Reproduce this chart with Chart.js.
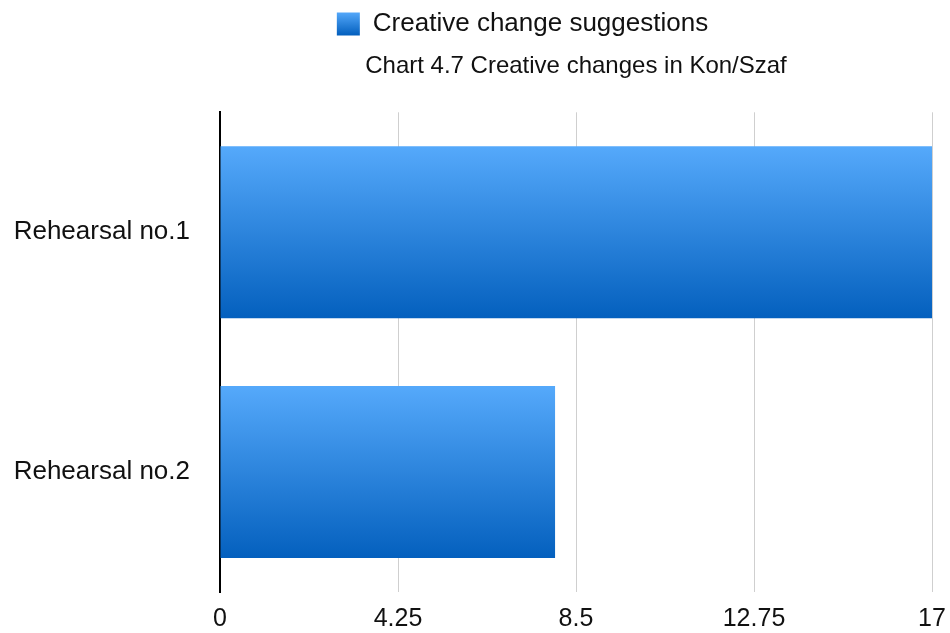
<!DOCTYPE html>
<html>
<head>
<meta charset="utf-8">
<script src="https://cdn.jsdelivr.net/npm/chart.js@4/dist/chart.umd.min.js"></script>
<style>
  html, body { margin: 0; padding: 0; background: #fff; }
  #wrap { width: 950px; height: 633px; }
</style>
</head>
<body>
<div id="wrap"><canvas id="c" width="950" height="633"></canvas></div>
<script>
const categories = ['Rehearsal no.1', 'Rehearsal no.2'];
const seriesName = 'Creative change suggestions';
const suggestions = [17, 8];
const xTicks = [0, 4.25, 8.5, 12.75, 17];
const chartTitle = 'Chart 4.7 Creative changes in Kon/Szaf';

const TOP_COLOR = '#55a9fb';
const BOTTOM_COLOR = '#0460be';
const BAR_PCT = 0.717;

function barGradient(ctx) {
  const chart = ctx.chart;
  const area = chart.chartArea;
  if (!area || ctx.dataIndex === undefined || !chart.scales.y) return '#2b84de';
  const y = chart.scales.y;
  const center = y.getPixelForValue(ctx.dataIndex);
  const half = (area.height / categories.length) * BAR_PCT / 2;
  const g = chart.ctx.createLinearGradient(0, center - half, 0, center + half);
  g.addColorStop(0, TOP_COLOR);
  g.addColorStop(1, BOTTOM_COLOR);
  return g;
}

const FONT = "'Liberation Sans', Arimo, Helvetica, Arial, sans-serif";

// shift the legend so it sits midway between the canvas centre and the plot centre
const legendShift = {
  id: 'legendShift',
  afterLayout(chart) {
    const lg = chart.legend, a = chart.chartArea;
    if (!lg || !a) return;
    const dx = ((a.left + a.right) / 2 - chart.width / 2) / 2;
    lg.left += dx; lg.right += dx;
  }
};

const chart = new Chart(document.getElementById('c'), {
  type: 'bar',
  data: {
    labels: categories,
    datasets: [{
      label: seriesName,
      data: suggestions,
      backgroundColor: barGradient,
      borderWidth: 0,
      categoryPercentage: 1,
      barPercentage: BAR_PCT
    }]
  },
  plugins: [legendShift],
  options: {
    indexAxis: 'y',
    responsive: false,
    animation: false,
    layout: { padding: { left: 12, right: 18, top: 0, bottom: 1 } },
    plugins: {
      legend: {
        position: 'top',
        labels: {
          font: { family: FONT, size: 26 },
          color: '#111',
          boxWidth: 23,
          boxHeight: 23,
          padding: 11,
          generateLabels: (ch) => {
            const items = Chart.defaults.plugins.legend.labels.generateLabels(ch);
            const lg = ch.legend;
            if (lg && lg.top !== undefined && lg.bottom !== undefined) {
              const mid = (lg.top + lg.bottom) / 2;
              const g = ch.ctx.createLinearGradient(0, mid - 11.5, 0, mid + 11.5);
              g.addColorStop(0, TOP_COLOR);
              g.addColorStop(1, BOTTOM_COLOR);
              items.forEach(it => { it.fillStyle = g; it.lineWidth = 0; it.strokeStyle = 'rgba(0,0,0,0)'; });
            } else {
              items.forEach(it => { it.lineWidth = 0; it.strokeStyle = 'rgba(0,0,0,0)'; });
            }
            return items;
          }
        }
      },
      title: {
        display: true,
        text: chartTitle,
        weight: 500,
        fullSize: false,
        color: '#111',
        font: { family: FONT, size: 24, weight: 'normal' },
        padding: { top: 5, bottom: 31.5 }
      },
      tooltip: { enabled: false }
    },
    scales: {
      x: {
        type: 'linear',
        min: 0,
        max: 17,
        afterBuildTicks: (axis) => { axis.ticks = xTicks.map(v => ({ value: v })); },
        afterFit: (axis) => { axis.height = 40; axis.paddingRight = 0; axis.paddingLeft = 0; },
        ticks: {
          font: { family: FONT, size: 25 },
          color: '#111',
          padding: 12,
          maxRotation: 0,
          callback: (v) => String(v)
        },
        grid: { color: '#cfcfcf', lineWidth: 1, drawTicks: false },
        border: { display: false }
      },
      y: {
        afterFit: (axis) => { axis.width = 208; axis.paddingTop = 0; axis.paddingBottom = 0; },
        ticks: {
          font: { family: FONT, size: 26 },
          color: '#111',
          padding: 30
        },
        grid: { display: false, drawTicks: false },
        border: { display: true, color: '#000', width: 2 }
      }
    }
  }
});
chart.update('none');
</script>
</body>
</html>
